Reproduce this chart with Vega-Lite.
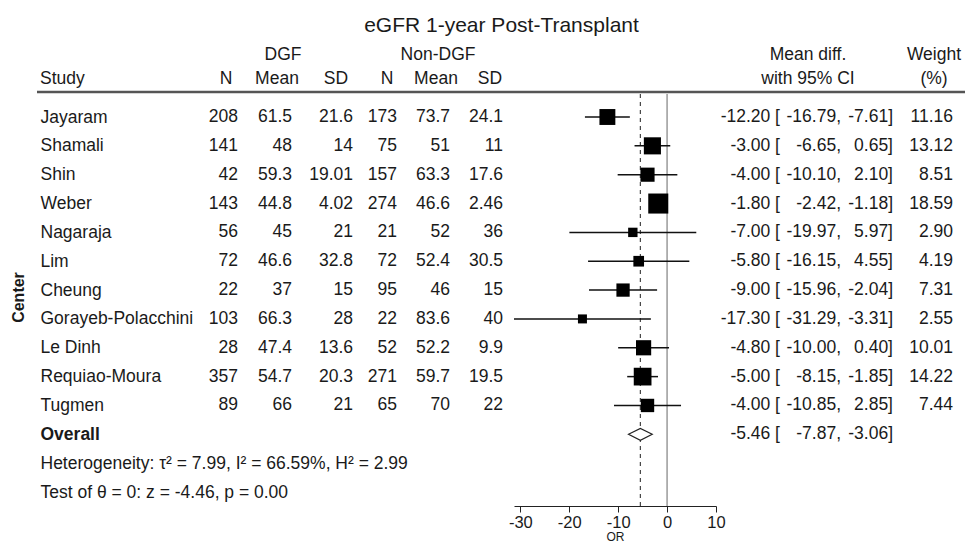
{
  "$schema": "https://vega.github.io/schema/vega-lite/v6.json",
  "width": 965,
  "height": 506,
  "autosize": {"type": "none"},
  "padding": {"left": 0, "top": 0, "right": 0, "bottom": 40},
  "background": "white",
  "title": {"text": "eGFR 1-year Post-Transplant", "anchor": "middle", "frame": "group", "offset": -47, "baseline": "middle", "dx": 19, "fontSize": 21, "fontWeight": "normal", "font": "Liberation Sans", "color": "#1a1a1a"},
  "config": {
    "view": {"stroke": null},
    "font": "Liberation Sans",
    "text": {"font": "Liberation Sans", "fontSize": 17.5, "color": "#1a1a1a", "baseline": "middle"}
  },
  "datasets": {
    "rows": [
      {"study": "Jayaram", "n1": 208, "mean1": 61.5, "sd1": 21.6, "n2": 173, "mean2": 73.7, "sd2": 24.1, "es": -12.20, "lci": -16.79, "uci": -7.61, "weight": 11.16},
      {"study": "Shamali", "n1": 141, "mean1": 48, "sd1": 14, "n2": 75, "mean2": 51, "sd2": 11, "es": -3.00, "lci": -6.65, "uci": 0.65, "weight": 13.12},
      {"study": "Shin", "n1": 42, "mean1": 59.3, "sd1": 19.01, "n2": 157, "mean2": 63.3, "sd2": 17.6, "es": -4.00, "lci": -10.10, "uci": 2.10, "weight": 8.51},
      {"study": "Weber", "n1": 143, "mean1": 44.8, "sd1": 4.02, "n2": 274, "mean2": 46.6, "sd2": 2.46, "es": -1.80, "lci": -2.42, "uci": -1.18, "weight": 18.59},
      {"study": "Nagaraja", "n1": 56, "mean1": 45, "sd1": 21, "n2": 21, "mean2": 52, "sd2": 36, "es": -7.00, "lci": -19.97, "uci": 5.97, "weight": 2.90},
      {"study": "Lim", "n1": 72, "mean1": 46.6, "sd1": 32.8, "n2": 72, "mean2": 52.4, "sd2": 30.5, "es": -5.80, "lci": -16.15, "uci": 4.55, "weight": 4.19},
      {"study": "Cheung", "n1": 22, "mean1": 37, "sd1": 15, "n2": 95, "mean2": 46, "sd2": 15, "es": -9.00, "lci": -15.96, "uci": -2.04, "weight": 7.31},
      {"study": "Gorayeb-Polacchini", "n1": 103, "mean1": 66.3, "sd1": 28, "n2": 22, "mean2": 83.6, "sd2": 40, "es": -17.30, "lci": -31.29, "uci": -3.31, "weight": 2.55},
      {"study": "Le Dinh", "n1": 28, "mean1": 47.4, "sd1": 13.6, "n2": 52, "mean2": 52.2, "sd2": 9.9, "es": -4.80, "lci": -10.00, "uci": 0.40, "weight": 10.01},
      {"study": "Requiao-Moura", "n1": 357, "mean1": 54.7, "sd1": 20.3, "n2": 271, "mean2": 59.7, "sd2": 19.5, "es": -5.00, "lci": -8.15, "uci": -1.85, "weight": 14.22},
      {"study": "Tugmen", "n1": 89, "mean1": 66, "sd1": 21, "n2": 65, "mean2": 70, "sd2": 22, "es": -4.00, "lci": -10.85, "uci": 2.85, "weight": 7.44},
      {"study": "Overall", "n1": null, "mean1": null, "sd1": null, "n2": null, "mean2": null, "sd2": null, "es": -5.46, "lci": -7.87, "uci": -3.06, "weight": null}
    ],
    "overall": [{"study": "Overall", "es": -5.46}],
    "headers": [
      {"row": "label", "key": "study", "text": "Study"},
      {"row": "group", "key": "dgf", "text": "DGF"},
      {"row": "group", "key": "nondgf", "text": "Non-DGF"},
      {"row": "label", "key": "n1", "text": "N"},
      {"row": "label", "key": "mean1", "text": "Mean"},
      {"row": "label", "key": "sd1", "text": "SD"},
      {"row": "label", "key": "n2", "text": "N"},
      {"row": "label", "key": "mean2", "text": "Mean"},
      {"row": "label", "key": "sd2", "text": "SD"},
      {"row": "group", "key": "ci", "text": "Mean diff."},
      {"row": "label", "key": "ci", "text": "with 95% CI"},
      {"row": "group", "key": "weight", "text": "Weight"},
      {"row": "label", "key": "weight", "text": "(%)"}
    ]
  },
  "resolve": {"scale": {"x": "independent", "y": "independent"}},
  "layer": [
    {
      "data": {"name": "overall"},
      "mark": {"type": "rule", "color": "#555555", "strokeWidth": 2.5},
      "encoding": {
        "x": {"datum": 0, "type": "quantitative", "scale": {"domain": [0, 1], "range": [37, 965], "nice": false, "zero": false}, "axis": null},
        "x2": {"datum": 1},
        "y": {"datum": "rule", "type": "nominal", "scale": {"type": "point", "domain": ["rule"], "range": [92, 92], "padding": 0}, "axis": null}
      }
    },
    {
      "data": {"name": "overall"},
      "mark": {"type": "rule", "color": "#9a9a9a", "strokeWidth": 1.5},
      "encoding": {
        "x": {"datum": 0, "type": "quantitative", "scale": {"domain": [-31.29, 10], "range": [514, 716], "nice": false, "zero": false}, "axis": null},
        "y": {"datum": 0, "type": "quantitative", "scale": {"domain": [0, 1], "range": [506, 94], "nice": false, "zero": false}, "axis": null},
        "y2": {"datum": 1}
      }
    },
    {
      "data": {"name": "overall"},
      "mark": {"type": "rule", "color": "#444444", "strokeWidth": 1.2, "strokeDash": [4, 4]},
      "encoding": {
        "x": {"field": "es", "type": "quantitative", "scale": {"domain": [-31.29, 10], "range": [514, 716], "nice": false, "zero": false}, "axis": null},
        "y": {"datum": 0, "type": "quantitative", "scale": {"domain": [0, 1], "range": [506, 94], "nice": false, "zero": false}, "axis": null},
        "y2": {"datum": 1}
      }
    },
    {
      "data": {"name": "rows"},
      "transform": [{"filter": "datum.study != 'Overall'"}],
      "mark": {"type": "rule", "color": "#111111", "strokeWidth": 1.5},
      "encoding": {
        "x": {"field": "lci", "type": "quantitative", "scale": {"domain": [-31.29, 10], "range": [514, 716], "nice": false, "zero": false},
          "axis": {"orient": "bottom", "values": [-30, -20, -10, 0, 10], "labelExpr": "'' + datum.value", "title": "OR", "grid": false, "domainColor": "#222222", "tickColor": "#222222", "tickSize": 6, "labelFontSize": 16.5, "labelColor": "#1a1a1a", "labelFont": "Liberation Sans", "labelPadding": 2, "labelFlush": false, "labelOverlap": false, "titleFontSize": 12, "titleFontWeight": "normal", "titleColor": "#1a1a1a", "titleFont": "Liberation Sans", "titlePadding": 1}},
        "x2": {"field": "uci"},
        "y": {"field": "study", "type": "nominal",
          "scale": {"type": "point", "domain": ["Jayaram", "Shamali", "Shin", "Weber", "Nagaraja", "Lim", "Cheung", "Gorayeb-Polacchini", "Le Dinh", "Requiao-Moura", "Tugmen", "Overall", "Heterogeneity: τ² = 7.99, I² = 66.59%, H² = 2.99", "Test of θ = 0: z = -4.46, p = 0.00"], "range": [117, 492], "padding": 0},
          "axis": {"orient": "left", "domain": false, "ticks": false, "grid": false, "labelAlign": "left", "labelBaseline": "middle", "labelPadding": -40, "labelFontSize": 17.5, "labelFont": "Liberation Sans", "labelColor": "#1a1a1a", "labelLimit": 600, "labelOverlap": false,
            "labelFontWeight": {"condition": {"test": "datum.value == 'Overall'", "value": "bold"}, "value": "normal"},
            "title": "Center", "titleFont": "Liberation Sans", "titleFontWeight": "bold", "titleFontSize": 16, "titleColor": "#1a1a1a", "titleX": 18, "titleY": 297, "titleAngle": 270, "titleAlign": "center", "titleBaseline": "middle"}}
      }
    },
    {
      "data": {"name": "rows"},
      "transform": [{"filter": "datum.study != 'Overall'"}],
      "mark": {"type": "point", "shape": "square", "filled": true, "color": "#000000", "opacity": 1},
      "encoding": {
        "x": {"field": "es", "type": "quantitative", "scale": {"domain": [-31.29, 10], "range": [514, 716], "nice": false, "zero": false}, "axis": null},
        "y": {"field": "study", "type": "nominal", "scale": {"type": "point", "domain": ["Jayaram", "Shamali", "Shin", "Weber", "Nagaraja", "Lim", "Cheung", "Gorayeb-Polacchini", "Le Dinh", "Requiao-Moura", "Tugmen", "Overall", "Heterogeneity: τ² = 7.99, I² = 66.59%, H² = 2.99", "Test of θ = 0: z = -4.46, p = 0.00"], "range": [117, 492], "padding": 0}, "axis": null},
        "size": {"field": "weight", "type": "quantitative", "scale": {"domain": [0, 20], "range": [30, 430], "zero": false}, "legend": null}
      }
    },
    {
      "data": {"name": "rows"},
      "transform": [{"filter": "datum.study == 'Overall'"}],
      "mark": {"type": "point", "shape": "M-1,0L0,-0.5L1,0L0,0.5Z", "filled": true, "fill": "white", "stroke": "#222222", "strokeWidth": 1.2, "opacity": 1, "size": 562},
      "encoding": {
        "x": {"field": "es", "type": "quantitative", "scale": {"domain": [-31.29, 10], "range": [514, 716], "nice": false, "zero": false}, "axis": null},
        "y": {"field": "study", "type": "nominal", "scale": {"type": "point", "domain": ["Jayaram", "Shamali", "Shin", "Weber", "Nagaraja", "Lim", "Cheung", "Gorayeb-Polacchini", "Le Dinh", "Requiao-Moura", "Tugmen", "Overall", "Heterogeneity: τ² = 7.99, I² = 66.59%, H² = 2.99", "Test of θ = 0: z = -4.46, p = 0.00"], "range": [117, 492], "padding": 0}, "axis": null}
      }
    },
    {
      "data": {"name": "rows"},
      "transform": [{"fold": ["n1", "mean1"], "as": ["key", "value"]}, {"filter": "isValid(datum.value)"}],
      "mark": {"type": "text", "align": "right", "baseline": "middle"},
      "encoding": {
        "x": {"field": "key", "type": "nominal", "scale": {"type": "point", "domain": ["n1", "mean1"], "range": [238, 292], "padding": 0}, "axis": null},
        "y": {"field": "study", "type": "nominal", "scale": {"type": "point", "domain": ["Jayaram", "Shamali", "Shin", "Weber", "Nagaraja", "Lim", "Cheung", "Gorayeb-Polacchini", "Le Dinh", "Requiao-Moura", "Tugmen", "Overall", "Heterogeneity: τ² = 7.99, I² = 66.59%, H² = 2.99", "Test of θ = 0: z = -4.46, p = 0.00"], "range": [117, 492], "padding": 0}, "axis": null},
        "text": {"field": "value", "type": "nominal"}
      }
    },
    {
      "data": {"name": "rows"},
      "transform": [{"fold": ["sd1", "n2"], "as": ["key", "value"]}, {"filter": "isValid(datum.value)"}],
      "mark": {"type": "text", "align": "right", "baseline": "middle"},
      "encoding": {
        "x": {"field": "key", "type": "nominal", "scale": {"type": "point", "domain": ["sd1", "n2"], "range": [353, 397], "padding": 0}, "axis": null},
        "y": {"field": "study", "type": "nominal", "scale": {"type": "point", "domain": ["Jayaram", "Shamali", "Shin", "Weber", "Nagaraja", "Lim", "Cheung", "Gorayeb-Polacchini", "Le Dinh", "Requiao-Moura", "Tugmen", "Overall", "Heterogeneity: τ² = 7.99, I² = 66.59%, H² = 2.99", "Test of θ = 0: z = -4.46, p = 0.00"], "range": [117, 492], "padding": 0}, "axis": null},
        "text": {"field": "value", "type": "nominal"}
      }
    },
    {
      "data": {"name": "rows"},
      "transform": [{"fold": ["mean2", "sd2"], "as": ["key", "value"]}, {"filter": "isValid(datum.value)"}],
      "mark": {"type": "text", "align": "right", "baseline": "middle"},
      "encoding": {
        "x": {"field": "key", "type": "nominal", "scale": {"type": "point", "domain": ["mean2", "sd2"], "range": [450, 503], "padding": 0}, "axis": null},
        "y": {"field": "study", "type": "nominal", "scale": {"type": "point", "domain": ["Jayaram", "Shamali", "Shin", "Weber", "Nagaraja", "Lim", "Cheung", "Gorayeb-Polacchini", "Le Dinh", "Requiao-Moura", "Tugmen", "Overall", "Heterogeneity: τ² = 7.99, I² = 66.59%, H² = 2.99", "Test of θ = 0: z = -4.46, p = 0.00"], "range": [117, 492], "padding": 0}, "axis": null},
        "text": {"field": "value", "type": "nominal"}
      }
    },
    {
      "data": {"name": "rows"},
      "transform": [{"fold": ["es", "weight"], "as": ["key", "value"]}, {"filter": "isValid(datum.value)"}],
      "mark": {"type": "text", "align": "right", "baseline": "middle", "text": {"expr": "replace(format(datum.value, '.2f'), '−', '-') + (datum.key == 'es' ? ' [' : '')"}},
      "encoding": {
        "x": {"field": "key", "type": "nominal", "scale": {"type": "point", "domain": ["es", "weight"], "range": [780, 953], "padding": 0}, "axis": null},
        "y": {"field": "study", "type": "nominal", "scale": {"type": "point", "domain": ["Jayaram", "Shamali", "Shin", "Weber", "Nagaraja", "Lim", "Cheung", "Gorayeb-Polacchini", "Le Dinh", "Requiao-Moura", "Tugmen", "Overall", "Heterogeneity: τ² = 7.99, I² = 66.59%, H² = 2.99", "Test of θ = 0: z = -4.46, p = 0.00"], "range": [117, 492], "padding": 0}, "axis": null}
      }
    },
    {
      "data": {"name": "rows"},
      "transform": [{"fold": ["lci", "uci"], "as": ["key", "value"]}, {"filter": "isValid(datum.value)"}],
      "mark": {"type": "text", "align": "right", "baseline": "middle", "text": {"expr": "replace(format(datum.value, '.2f'), '−', '-') + (datum.key == 'lci' ? ',' : ']')"}},
      "encoding": {
        "x": {"field": "key", "type": "nominal", "scale": {"type": "point", "domain": ["lci", "uci"], "range": [841, 893], "padding": 0}, "axis": null},
        "y": {"field": "study", "type": "nominal", "scale": {"type": "point", "domain": ["Jayaram", "Shamali", "Shin", "Weber", "Nagaraja", "Lim", "Cheung", "Gorayeb-Polacchini", "Le Dinh", "Requiao-Moura", "Tugmen", "Overall", "Heterogeneity: τ² = 7.99, I² = 66.59%, H² = 2.99", "Test of θ = 0: z = -4.46, p = 0.00"], "range": [117, 492], "padding": 0}, "axis": null}
      }
    },
    {
      "data": {"name": "headers"},
      "transform": [{"filter": {"field": "key", "oneOf": ["study"]}}],
      "mark": {"type": "text", "align": "left", "baseline": "middle"},
      "encoding": {
        "x": {"field": "key", "type": "nominal", "scale": {"type": "point", "domain": ["study"], "range": [40, 40], "padding": 0}, "axis": null},
        "y": {"field": "row", "type": "nominal", "scale": {"type": "point", "domain": ["group", "label"], "range": [55, 79], "padding": 0}, "axis": null},
        "text": {"field": "text", "type": "nominal"}
      }
    },
    {
      "data": {"name": "headers"},
      "transform": [{"filter": {"field": "key", "oneOf": ["dgf", "nondgf"]}}],
      "mark": {"type": "text", "align": "center", "baseline": "middle"},
      "encoding": {
        "x": {"field": "key", "type": "nominal", "scale": {"type": "point", "domain": ["dgf", "nondgf"], "range": [283, 438], "padding": 0}, "axis": null},
        "y": {"field": "row", "type": "nominal", "scale": {"type": "point", "domain": ["group", "label"], "range": [55, 79], "padding": 0}, "axis": null},
        "text": {"field": "text", "type": "nominal"}
      }
    },
    {
      "data": {"name": "headers"},
      "transform": [{"filter": {"field": "key", "oneOf": ["n1", "mean1"]}}],
      "mark": {"type": "text", "align": "center", "baseline": "middle"},
      "encoding": {
        "x": {"field": "key", "type": "nominal", "scale": {"type": "point", "domain": ["n1", "mean1"], "range": [226, 277], "padding": 0}, "axis": null},
        "y": {"field": "row", "type": "nominal", "scale": {"type": "point", "domain": ["group", "label"], "range": [55, 79], "padding": 0}, "axis": null},
        "text": {"field": "text", "type": "nominal"}
      }
    },
    {
      "data": {"name": "headers"},
      "transform": [{"filter": {"field": "key", "oneOf": ["sd1", "n2"]}}],
      "mark": {"type": "text", "align": "center", "baseline": "middle"},
      "encoding": {
        "x": {"field": "key", "type": "nominal", "scale": {"type": "point", "domain": ["sd1", "n2"], "range": [336, 387], "padding": 0}, "axis": null},
        "y": {"field": "row", "type": "nominal", "scale": {"type": "point", "domain": ["group", "label"], "range": [55, 79], "padding": 0}, "axis": null},
        "text": {"field": "text", "type": "nominal"}
      }
    },
    {
      "data": {"name": "headers"},
      "transform": [{"filter": {"field": "key", "oneOf": ["mean2", "sd2"]}}],
      "mark": {"type": "text", "align": "center", "baseline": "middle"},
      "encoding": {
        "x": {"field": "key", "type": "nominal", "scale": {"type": "point", "domain": ["mean2", "sd2"], "range": [436, 490], "padding": 0}, "axis": null},
        "y": {"field": "row", "type": "nominal", "scale": {"type": "point", "domain": ["group", "label"], "range": [55, 79], "padding": 0}, "axis": null},
        "text": {"field": "text", "type": "nominal"}
      }
    },
    {
      "data": {"name": "headers"},
      "transform": [{"filter": {"field": "key", "oneOf": ["ci", "weight"]}}],
      "mark": {"type": "text", "align": "center", "baseline": "middle"},
      "encoding": {
        "x": {"field": "key", "type": "nominal", "scale": {"type": "point", "domain": ["ci", "weight"], "range": [808, 934], "padding": 0}, "axis": null},
        "y": {"field": "row", "type": "nominal", "scale": {"type": "point", "domain": ["group", "label"], "range": [55, 79], "padding": 0}, "axis": null},
        "text": {"field": "text", "type": "nominal"}
      }
    }
  ]
}
